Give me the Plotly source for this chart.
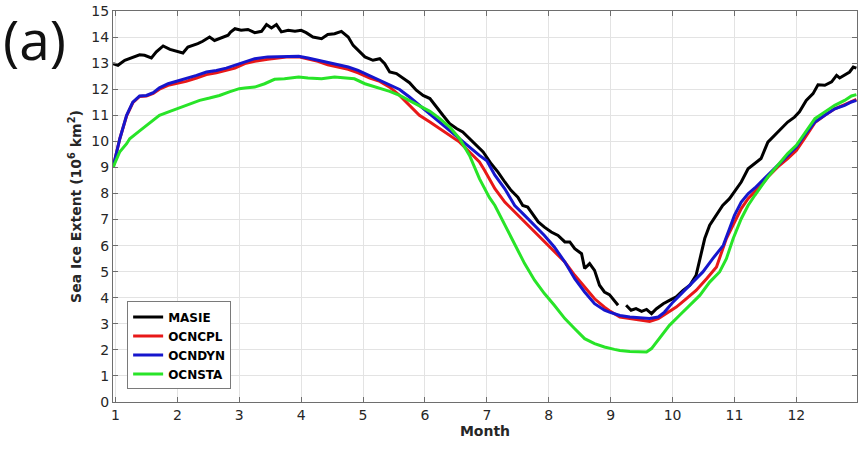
import plotly.graph_objects as go

# Sea ice extent by month, MASIE observations vs three model runs

masie_month = [0.96, 1.04, 1.15, 1.28, 1.39, 1.47, 1.58, 1.66, 1.77, 1.88,
               2.01, 2.09, 2.17, 2.25, 2.33, 2.41, 2.47, 2.52, 2.60, 2.68,
               2.76, 2.82, 2.86, 2.93, 3.03, 3.14, 3.25, 3.36, 3.44, 3.52,
               3.60, 3.68, 3.79, 3.90, 4.00, 4.08, 4.19, 4.33, 4.43, 4.54,
               4.65, 4.76, 4.84, 4.92, 5.03, 5.16, 5.27, 5.35, 5.43, 5.54,
               5.65, 5.75, 5.86, 5.97, 6.08, 6.18, 6.29, 6.40, 6.51, 6.61,
               6.72, 6.83, 6.94, 7.07, 7.18, 7.29, 7.39, 7.50, 7.58, 7.66,
               7.74, 7.83, 7.93, 8.04, 8.15, 8.26, 8.34, 8.42, 8.53, 8.58,
               8.66, 8.74, 8.82, 8.90, 8.98, 9.06, 9.12, 9.18, 9.25, 9.33,
               9.41, 9.50, 9.58, 9.66, 9.74, 9.85, 9.95, 10.06, 10.17, 10.28,
               10.38, 10.44, 10.52, 10.60, 10.71, 10.81, 10.92, 11.00, 11.11, 11.22,
               11.33, 11.43, 11.54, 11.65, 11.76, 11.86, 11.97, 12.05, 12.16, 12.27,
               12.35, 12.46, 12.57, 12.65, 12.70, 12.78, 12.86, 12.92, 12.97]
masie_extent = [12.98, 12.92, 13.11, 13.24, 13.32, 13.30, 13.20, 13.43, 13.66, 13.53,
                13.43, 13.39, 13.62, 13.68, 13.75, 13.84, 13.94, 14.00, 13.87, 13.94,
                14.00, 14.07, 14.19, 14.32, 14.26, 14.29, 14.17, 14.22, 14.48, 14.35,
                14.48, 14.20, 14.26, 14.22, 14.26, 14.17, 14.00, 13.94, 14.10, 14.13,
                14.22, 14.00, 13.68, 13.49, 13.24, 13.11, 13.17, 12.98, 12.66, 12.60,
                12.40, 12.25, 11.96, 11.76, 11.64, 11.32, 11.00, 10.68, 10.49, 10.36,
                10.10, 9.85, 9.59, 9.14, 8.82, 8.44, 8.12, 7.86, 7.54, 7.48,
                7.23, 6.91, 6.71, 6.52, 6.39, 6.14, 6.14, 5.88, 5.69, 5.12,
                5.31, 5.05, 4.48, 4.22, 4.12, 3.90, 3.71, None, 3.71, 3.52,
                3.58, 3.48, 3.55, 3.39, 3.58, 3.77, 3.90, 4.03, 4.28, 4.48,
                4.86, 5.50, 6.27, 6.78, 7.16, 7.54, 7.80, 8.06, 8.44, 8.95,
                9.14, 9.34, 9.97, 10.23, 10.49, 10.74, 10.93, 11.13, 11.57, 11.83,
                12.17, 12.15, 12.28, 12.53, 12.43, 12.53, 12.66, 12.85, 12.81]

ocncpl_month = [0.96, 1.07, 1.18, 1.28, 1.39, 1.50, 1.61, 1.71, 1.85, 1.98,
                2.14, 2.31, 2.47, 2.63, 2.79, 2.93, 3.09, 3.25, 3.46, 3.63,
                3.79, 3.96, 4.11, 4.27, 4.43, 4.60, 4.76, 4.92, 5.03, 5.11,
                5.27, 5.43, 5.59, 5.75, 5.91, 6.08, 6.24, 6.40, 6.56, 6.72,
                6.88, 6.96, 7.13, 7.29, 7.45, 7.61, 7.77, 7.93, 8.09, 8.26,
                8.42, 8.58, 8.74, 8.90, 8.98, 9.15, 9.31, 9.47, 9.63, 9.77,
                9.90, 10.06, 10.22, 10.38, 10.55, 10.71, 10.87, 10.98, 11.11, 11.22,
                11.33, 11.43, 11.54, 11.70, 11.86, 12.00, 12.13, 12.30, 12.46, 12.62,
                12.78, 12.89, 12.97]
ocncpl_extent = [9.00, 10.10, 10.98, 11.48, 11.72, 11.74, 11.84, 12.00, 12.15, 12.21,
                 12.30, 12.43, 12.56, 12.63, 12.72, 12.81, 12.98, 13.07, 13.15, 13.20,
                 13.24, 13.24, 13.17, 13.07, 12.94, 12.85, 12.76, 12.63, 12.50, 12.43,
                 12.30, 12.08, 11.76, 11.38, 11.00, 10.74, 10.49, 10.23, 9.97, 9.59,
                 9.21, 8.90, 8.18, 7.67, 7.29, 6.91, 6.52, 6.14, 5.75, 5.37,
                 4.86, 4.41, 3.96, 3.64, 3.50, 3.26, 3.20, 3.13, 3.09, 3.20,
                 3.39, 3.64, 3.96, 4.28, 4.73, 5.18, 6.27, 6.78, 7.42, 7.80,
                 8.06, 8.31, 8.63, 9.02, 9.34, 9.65, 10.10, 10.72, 11.00, 11.25,
                 11.41, 11.53, 11.61]

ocndyn_month = [0.96, 1.07, 1.18, 1.28, 1.39, 1.50, 1.61, 1.71, 1.85, 1.98,
                2.14, 2.31, 2.47, 2.63, 2.79, 2.93, 3.09, 3.25, 3.46, 3.63,
                3.79, 3.96, 4.11, 4.27, 4.43, 4.60, 4.76, 4.92, 5.03, 5.11,
                5.27, 5.43, 5.59, 5.75, 5.91, 6.08, 6.24, 6.40, 6.56, 6.72,
                6.88, 7.00, 7.13, 7.29, 7.45, 7.61, 7.77, 7.93, 8.09, 8.26,
                8.42, 8.58, 8.74, 8.90, 8.98, 9.15, 9.31, 9.47, 9.63, 9.77,
                9.87, 10.01, 10.17, 10.33, 10.49, 10.65, 10.82, 10.92, 11.00, 11.11,
                11.22, 11.33, 11.43, 11.54, 11.70, 11.86, 12.00, 12.13, 12.30, 12.46,
                12.62, 12.78, 12.89, 12.97]
ocndyn_extent = [9.00, 10.10, 11.00, 11.50, 11.74, 11.76, 11.87, 12.05, 12.21, 12.30,
                 12.40, 12.53, 12.66, 12.72, 12.81, 12.92, 13.04, 13.17, 13.24, 13.24,
                 13.26, 13.26, 13.20, 13.11, 13.02, 12.92, 12.85, 12.72, 12.60, 12.53,
                 12.34, 12.17, 11.99, 11.70, 11.38, 11.06, 10.74, 10.42, 10.10, 9.78,
                 9.46, 9.25, 8.70, 8.18, 7.54, 7.16, 6.78, 6.39, 5.95, 5.37,
                 4.73, 4.22, 3.77, 3.52, 3.45, 3.32, 3.26, 3.22, 3.20, 3.26,
                 3.45, 3.84, 4.22, 4.60, 4.99, 5.50, 6.01, 6.65, 7.16, 7.67,
                 7.99, 8.21, 8.44, 8.70, 9.08, 9.46, 9.78, 10.23, 10.74, 11.00,
                 11.25, 11.38, 11.51, 11.57]

ocnsta_month = [0.96, 1.07, 1.18, 1.23, 1.39, 1.55, 1.66, 1.71, 1.88, 2.04,
                2.20, 2.36, 2.52, 2.68, 2.84, 3.00, 3.09, 3.25, 3.41, 3.57,
                3.73, 3.96, 4.11, 4.33, 4.54, 4.70, 4.86, 5.03, 5.11, 5.27,
                5.43, 5.59, 5.75, 5.91, 6.08, 6.24, 6.40, 6.56, 6.72, 6.88,
                7.04, 7.13, 7.29, 7.45, 7.61, 7.77, 7.93, 8.09, 8.26, 8.42,
                8.58, 8.74, 8.90, 9.06, 9.15, 9.31, 9.47, 9.58, 9.66, 9.79,
                9.95, 10.11, 10.28, 10.44, 10.60, 10.76, 10.87, 10.98, 11.11, 11.22,
                11.33, 11.43, 11.54, 11.70, 11.86, 12.00, 12.13, 12.30, 12.46, 12.62,
                12.78, 12.89, 12.97]
ocnsta_extent = [9.00, 9.60, 9.91, 10.10, 10.40, 10.70, 10.93, 11.00, 11.15, 11.30,
                 11.45, 11.57, 11.66, 11.76, 11.90, 12.02, 12.05, 12.08, 12.21, 12.38,
                 12.40, 12.47, 12.43, 12.40, 12.47, 12.43, 12.40, 12.21, 12.15, 12.05,
                 11.92, 11.76, 11.57, 11.38, 11.15, 10.87, 10.55, 10.10, 9.46, 8.57,
                 7.85, 7.54, 6.78, 6.01, 5.31, 4.67, 4.16, 3.71, 3.20, 2.81,
                 2.43, 2.24, 2.11, 2.02, 1.98, 1.94, 1.92, 1.92, 2.05, 2.43,
                 2.94, 3.32, 3.71, 4.09, 4.60, 4.99, 5.50, 6.27, 7.03, 7.54,
                 7.93, 8.25, 8.63, 9.08, 9.53, 9.85, 10.29, 10.87, 11.13, 11.38,
                 11.57, 11.74, 11.79]

month_ticks = list(range(1, 13))
extent_ticks = list(range(0, 16))

series = [
    ("MASIE", masie_month, masie_extent, "#000000"),
    ("OCNCPL", ocncpl_month, ocncpl_extent, "rgb(232,24,24)"),
    ("OCNDYN", ocndyn_month, ocndyn_extent, "rgb(22,22,205)"),
    ("OCNSTA", ocnsta_month, ocnsta_extent, "rgb(40,228,40)"),
]

fig = go.Figure()
for name, xs, ys, color in series:
    fig.add_trace(go.Scatter(
        x=xs, y=ys, name=name, mode="lines",
        line=dict(color=color, width=3),
        connectgaps=False,
    ))

axis_style = dict(
    showgrid=True, gridcolor="#e3e3e3", gridwidth=1,
    showline=True, linecolor="#6e6e6e", linewidth=1, mirror="ticks",
    ticks="inside", ticklen=5, tickcolor="#6e6e6e",
    tickfont=dict(family="DejaVu Sans", size=14, color="#262626"),
    zeroline=False,
)

fig.update_layout(
    width=859, height=449,
    margin=dict(l=113, r=2, t=11, b=47),
    plot_bgcolor="white", paper_bgcolor="white",
    font=dict(family="DejaVu Sans", color="#262626"),
    xaxis=dict(
        axis_style, range=[0.96, 12.98], tickvals=month_ticks,
        title=dict(text="<b>Month</b>", font=dict(size=14), standoff=4),
    ),
    yaxis=dict(
        axis_style, range=[0, 15], tickvals=extent_ticks,
        title=dict(text="<b>Sea Ice Extent (10<sup>6</sup> km<sup>2</sup>)</b>",
                   font=dict(size=14), standoff=6),
    ),
    legend=dict(
        x=0.019, y=0.032, xanchor="left", yanchor="bottom",
        bgcolor="white", bordercolor="#7a7a7a", borderwidth=1,
        font=dict(family="DejaVu Sans", size=12, color="#000000", weight="bold"),
        tracegroupgap=0, itemwidth=30,
    ),
    showlegend=True,
)

# panel label in the top-left corner
fig.add_annotation(
    text="(a)", xref="paper", yref="paper",
    x=-0.15, y=0.93, xanchor="left", yanchor="middle",
    showarrow=False, font=dict(family="Open Sans", size=55, color="#111111"),
)

# the page body has a default margin; drop it so the figure sits at the corner
fig.write_html("out.html", config={"displayModeBar": False},
               post_script="document.body.style.margin='0';")
